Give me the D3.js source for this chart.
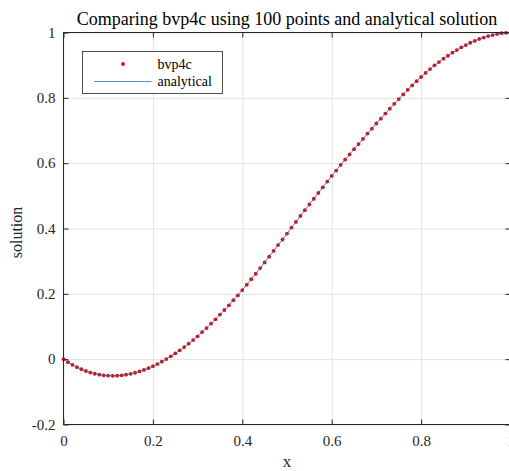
<!DOCTYPE html>
<html>
<head>
<meta charset="utf-8">
<script src="https://cdn.jsdelivr.net/npm/d3@7"></script>
<style>
  body { margin: 0; background: #fff; }
  .grid line { stroke: #e3e3e3; }
  .grid path { display: none; }
  .ticks path { display: none; }
  .ticks line { stroke: #262626; }
</style>
</head>
<body>
<div class="chart"></div>
<script>
// sampled mesh, 0 .. 1 in steps of 0.01
const xValues = d3.range(101).map(i => i / 100);
// solution values
const yValues = [
  0.0000, -0.0091, -0.0173, -0.0246, -0.0309, -0.0363, -0.0409, -0.0446, -0.0474, -0.0494,
  -0.0506, -0.0510, -0.0506, -0.0494, -0.0476, -0.0449, -0.0416, -0.0376, -0.0329, -0.0275,
  -0.0215, -0.0149, -0.0077, 0.0002, 0.0086, 0.0175, 0.0270, 0.0370, 0.0475, 0.0585,
  0.0699, 0.0828, 0.0952, 0.1089, 0.1221, 0.1366, 0.1505, 0.1647, 0.1803, 0.1952,
  0.2114, 0.2278, 0.2446, 0.2615, 0.2787, 0.2961, 0.3136, 0.3314, 0.3493, 0.3663,
  0.3845, 0.4028, 0.4201, 0.4386, 0.4561, 0.4735, 0.4911, 0.5086, 0.5261, 0.5436,
  0.5610, 0.5774, 0.5946, 0.6108, 0.6268, 0.6427, 0.6585, 0.6741, 0.6905, 0.7057,
  0.7215, 0.7362, 0.7517, 0.7668, 0.7817, 0.7963, 0.8105, 0.8244, 0.8379, 0.8510,
  0.8637, 0.8761, 0.8880, 0.8994, 0.9094, 0.9198, 0.9288, 0.9383, 0.9462, 0.9546,
  0.9614, 0.9686, 0.9742, 0.9801, 0.9845, 0.9891, 0.9921, 0.9954, 0.9980, 0.9989,
  1.0000
];
const xTicks = [0, 0.2, 0.4, 0.6, 0.8, 1];
const yTicks = [-0.2, 0, 0.2, 0.4, 0.6, 0.8, 1];
const legendLabels = ["bvp4c", "analytical"];

const data = xValues.map((x, i) => ({ x: x, y: yValues[i] }));
const serif = "'Liberation Serif', serif";

const margin = { top: 32.5, right: 0, bottom: 46.5, left: 63.5 },
  width = 447,
  height = 392;

const svg = d3.select(".chart")
  .append("svg")
  .attr("width", 509)
  .attr("height", 471)
  .attr("font-family", serif)
  .append("g")
  .attr("transform", `translate(${margin.left}, ${margin.top})`);

const x = d3.scaleLinear().domain([0, 1]).range([0, width]);
const y = d3.scaleLinear().domain([-0.2, 1]).range([height, 0]);
const fmt = d => String(d);

// grid
svg.append("g")
  .attr("class", "grid")
  .attr("transform", `translate(0, ${height})`)
  .call(d3.axisBottom(x).tickValues(xTicks).tickSize(-height).tickFormat(""));
svg.append("g")
  .attr("class", "grid")
  .call(d3.axisLeft(y).tickValues(yTicks).tickSize(-width).tickFormat(""));

// bvp4c points
svg.selectAll("circle.pt")
  .data(data)
  .enter()
  .append("circle")
  .attr("class", "pt")
  .attr("cx", d => x(d.x))
  .attr("cy", d => y(d.y))
  .attr("r", 1.9)
  .attr("fill", "#ff0000");

// analytical line
const line = d3.line().x(d => x(d.x)).y(d => y(d.y)).curve(d3.curveMonotoneX);
svg.append("path")
  .datum(data)
  .attr("d", line)
  .attr("fill", "none")
  .attr("stroke", "#0072BD")
  .attr("stroke-width", 0.8);

// axes, ticks pointing inward
svg.append("g")
  .attr("class", "ticks")
  .attr("transform", `translate(0, ${height})`)
  .call(d3.axisBottom(x).tickValues(xTicks).tickSize(-5).tickPadding(11).tickFormat(fmt))
  .attr("font-family", serif)
  .attr("font-size", 15)
  .selectAll("text").attr("fill", "#262626");
svg.append("g")
  .attr("class", "ticks")
  .call(d3.axisLeft(y).tickValues(yTicks).tickSize(-5).tickPadding(8).tickFormat(fmt))
  .attr("font-family", serif)
  .attr("font-size", 15)
  .selectAll("text").attr("fill", "#262626");
svg.append("g")
  .attr("class", "ticks")
  .call(d3.axisTop(x).tickValues(xTicks).tickSize(-5).tickFormat(""));
svg.append("g")
  .attr("class", "ticks")
  .attr("transform", `translate(${width}, 0)`)
  .call(d3.axisRight(y).tickValues(yTicks).tickSize(-5).tickFormat(""));

svg.append("rect")
  .attr("width", width)
  .attr("height", height)
  .attr("fill", "none")
  .attr("stroke", "#262626")
  .attr("stroke-width", 1);

// title
svg.append("text")
  .attr("x", width / 2)
  .attr("y", -7.5)
  .style("text-anchor", "middle")
  .style("font-size", "18px")
  .attr("fill", "#000")
  .text("Comparing bvp4c using 100 points and analytical solution");

// X axis title
svg.append("text")
  .attr("x", width / 2)
  .attr("y", height + 42)
  .style("text-anchor", "middle")
  .style("font-size", "17px")
  .attr("fill", "#262626")
  .text("x");

// Y axis title
svg.append("text")
  .attr("transform", "rotate(-90)")
  .attr("x", -(y(0.4) + 4))
  .attr("y", -42)
  .style("text-anchor", "middle")
  .style("font-size", "16px")
  .attr("fill", "#262626")
  .text("solution");

// legend
const legend = svg.append("g").attr("transform", "translate(19, 19)");
legend.append("rect")
  .attr("width", 140)
  .attr("height", 42)
  .attr("fill", "#fff")
  .attr("stroke", "#262626")
  .attr("stroke-width", 0.8);
legend.append("circle")
  .attr("cx", 40.5)
  .attr("cy", 12.5)
  .attr("r", 1.9)
  .attr("fill", "#ff0000");
legend.append("line")
  .attr("x1", 11.5)
  .attr("x2", 69)
  .attr("y1", 30)
  .attr("y2", 30)
  .attr("stroke", "#4d94cc")
  .attr("stroke-width", 1);
legend.selectAll("text.lg")
  .data(legendLabels)
  .enter()
  .append("text")
  .attr("class", "lg")
  .attr("x", 75)
  .attr("y", (d, i) => 17 + i * 17.5)
  .style("font-size", "14px")
  .attr("fill", "#000")
  .text(d => d);
</script>
</body>
</html>
